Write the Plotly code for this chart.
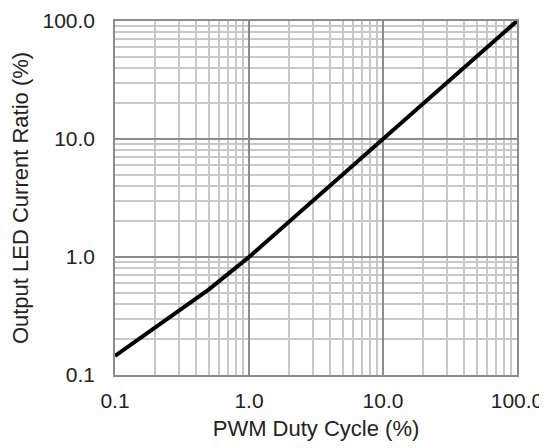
import plotly.graph_objects as go

# Data (log-log)
duty_cycle = [0.1, 0.5, 1.0, 10.0, 100.0]
current_ratio = [0.145, 0.53, 1.0, 10.0, 100.0]

major_vals = [0.1, 1, 10, 100]
major_text = ["0.1", "1.0", "10.0", "100.0"]
minor_vals = [m * d for d in [0.1, 1, 10] for m in range(2, 10)]

FONT = "Liberation Sans, Arial, sans-serif"

fig = go.Figure()
fig.add_trace(go.Scatter(
    x=duty_cycle, y=current_ratio, mode="lines",
    line=dict(color="black", width=4),
    showlegend=False, hoverinfo="skip"))

axis_common = dict(
    type="log", range=[-1, 2], automargin=False,
    tickmode="array", tickvals=major_vals, ticktext=major_text,
    showgrid=True, gridcolor="#8c8c8c", gridwidth=1.5,
    showline=True, linecolor="#8c8c8c", linewidth=1.5, mirror=True,
    ticks="", zeroline=False,
    tickfont=dict(family=FONT, size=21, color="#222"),
    minor=dict(tickmode="array", tickvals=minor_vals, showgrid=True,
               gridcolor="#c8c8c8", gridwidth=1.5, ticks=""),
    layer="below traces",
)

# page body adds an 8px margin, so the figure is offset by 8px
fig.update_layout(
    width=539, height=440,
    margin=dict(l=107, r=30, t=13, b=73),
    paper_bgcolor="white", plot_bgcolor="white",
    xaxis=dict(**axis_common,
               title=dict(text="PWM Duty Cycle (%)", standoff=10,
                          font=dict(family=FONT, size=22, color="#222")),
               ticklabelstandoff=6),
    yaxis=dict(**axis_common,
               title=dict(text="Output LED Current Ratio (%)", standoff=14,
                          font=dict(family=FONT, size=22, color="#222")),
               ticklabelstandoff=14),
)

fig.write_html("out.html")
